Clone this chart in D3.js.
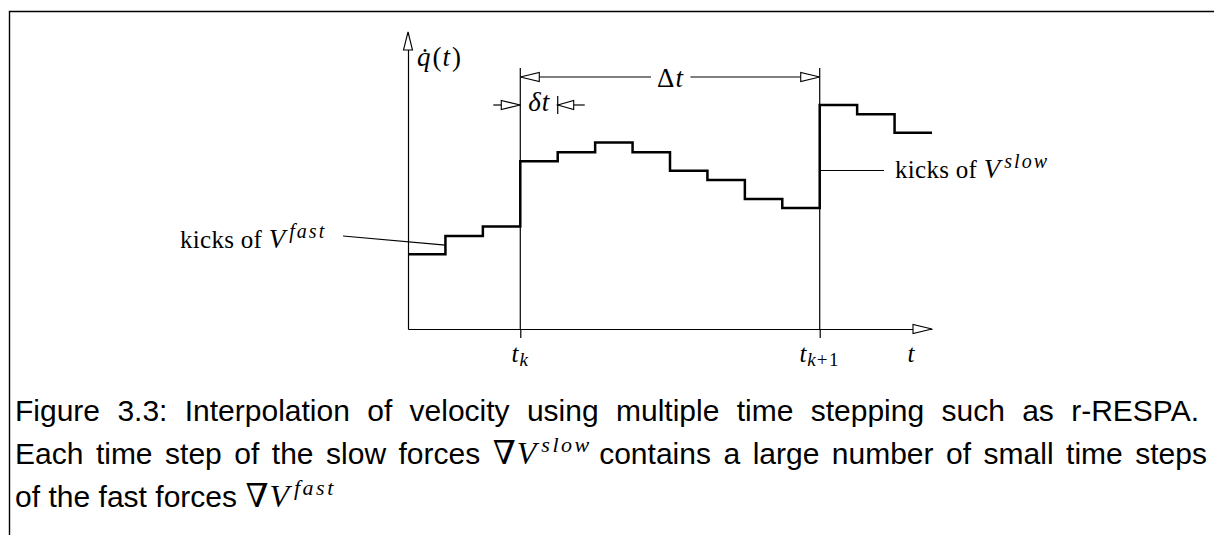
<!DOCTYPE html>
<html><head><meta charset="utf-8">
<script src="https://cdn.jsdelivr.net/npm/d3@7"></script>
<style>body{margin:0;background:#fff}svg{display:block}</style>
</head><body>
<script>
// ---------- data ----------
const stepIndex = [0,1,2,3,4,5,6,7,8,9,10,11,12,13];
const velocity  = [2.52,3.13,3.45,5.65,5.95,6.28,5.95,5.33,5.02,4.38,4.07,7.54,7.23,6.61];
const slowSteps = [3, 11];
const slowTickLabels = [["t","k",""],["t","k","+1"]];
const fastMarkStep = 4;
const xDomain = [0, 14];
const yDomain = [0, 10];
const captionLines = [
  "Figure 3.3:  Interpolation of velocity using multiple time stepping such as r-RESPA.",
  "Each time step of the slow forces $slow contains a large number of small time steps",
  "of the fast forces $fast"
];

const W = 1214, H = 535;
const SERIF = "'Liberation Serif', 'DejaVu Serif', serif";
const SANS = "'Liberation Sans', Arial, sans-serif";

const svg = d3.select("body").append("svg").attr("width", W).attr("height", H);

const x = d3.scaleLinear().domain(xDomain).range([408, 932]);
const y = d3.scaleLinear().domain(yDomain).range([329, 32]);

// frame
svg.append("path").attr("d", "M9.5,535V11.5H1214").attr("fill","none").attr("stroke","#000").attr("stroke-width",1.4);

// axes
const gx = svg.append("g").attr("transform", `translate(0,${y(0)})`)
  .call(d3.axisBottom(x).tickValues(slowSteps).tickSize(9).tickSizeOuter(0).tickFormat(""));
const gy = svg.append("g").attr("transform", `translate(${x(0)},0)`)
  .call(d3.axisLeft(y).tickValues([]).tickSizeOuter(0));
[gx, gy].forEach(g => g.selectAll("path,line").attr("stroke","#000").attr("stroke-width",1.2));

// vertical lines at slow steps
svg.selectAll("line.slow").data(slowSteps).join("line").attr("class","slow")
  .attr("x1", d => x(d)).attr("x2", d => x(d))
  .attr("y1", 68).attr("y2", y(0))
  .attr("stroke","#000").attr("stroke-width",1.2);

function arrow(tx, ty, dir, len = 19, hw = 4.5) {
  let pts;
  if (dir === "right") pts = [[tx,ty],[tx-len,ty-hw],[tx-len,ty+hw]];
  else if (dir === "left") pts = [[tx,ty],[tx+len,ty-hw],[tx+len,ty+hw]];
  else pts = [[tx,ty],[tx-hw,ty+len],[tx+hw,ty+len]];
  svg.append("polygon").attr("points", pts.map(p => p.join(",")).join(" "))
    .attr("fill","#fff").attr("stroke","#000").attr("stroke-width",1.1);
}
function hline(x1, x2, yy) {
  svg.append("line").attr("x1",x1).attr("x2",x2).attr("y1",yy).attr("y2",yy)
    .attr("stroke","#000").attr("stroke-width",1.2);
}

// step curve
const pts = stepIndex.map(i => ({i, v: velocity[i]}));
pts.push({i: stepIndex.length, v: velocity[velocity.length-1]});
svg.append("path").datum(pts)
  .attr("d", d3.line().x(d => x(d.i)).y(d => y(d.v)).curve(d3.curveStepAfter))
  .attr("fill","none").attr("stroke","#000").attr("stroke-width",2.5).attr("stroke-linejoin","miter");

// axis arrows
arrow(x(xDomain[1]), y(0), "right");
arrow(x(0), y(yDomain[1]), "up", 18, 4.5);

// axis labels
const ql = svg.append("text").attr("x", 417).attr("y", 66).attr("font-family", SERIF).attr("font-size", 27);
ql.append("tspan").attr("font-style","italic").attr("letter-spacing", 2).text("q\u0307");
ql.append("tspan").attr("letter-spacing", 1).text("(");
ql.append("tspan").attr("font-style","italic").attr("letter-spacing", 2).text("t");
ql.append("tspan").text(")");

slowSteps.forEach((s, k) => {
  const t = svg.append("text").attr("x", x(s)).attr("y", 362).attr("text-anchor","middle")
    .attr("font-family", SERIF).attr("font-size", 25);
  t.append("tspan").attr("font-style","italic").text(slowTickLabels[k][0]);
  t.append("tspan").attr("font-style","italic").attr("font-size", 19).attr("dx", 1).attr("dy", 4).attr("letter-spacing", 1).text(slowTickLabels[k][1]);
  if (slowTickLabels[k][2]) t.append("tspan").attr("font-size", 19).attr("letter-spacing", 1.5).text(slowTickLabels[k][2]);
});
svg.append("text").attr("x", 911).attr("y", 362).attr("text-anchor","middle")
  .attr("font-family", SERIF).attr("font-size", 25).attr("font-style","italic").text("t");

// Δt dimension
const dtY = 77;
const dT = svg.append("text").attr("x", x((slowSteps[0]+slowSteps[1])/2)).attr("y", 87)
  .attr("text-anchor","middle").attr("font-family", SERIF).attr("font-size", 27);
dT.append("tspan").attr("letter-spacing", 1).text("\u0394");
dT.append("tspan").attr("font-style","italic").text("t");
const dtb = dT.node().getBBox();
hline(x(slowSteps[0]), dtb.x - 6, dtY);
hline(dtb.x + dtb.width + 6, x(slowSteps[1]), dtY);
arrow(x(slowSteps[0]), dtY, "left");
arrow(x(slowSteps[1]), dtY, "right");

// δt dimension
const ddY = 105;
hline(x(slowSteps[0]) - 27, x(slowSteps[0]), ddY);
arrow(x(slowSteps[0]), ddY, "right", 19, 4.5);
svg.append("text").attr("x", x(slowSteps[0]) + 8).attr("y", 111)
  .attr("font-family", SERIF).attr("font-size", 27).attr("font-style","italic").attr("letter-spacing", 1).text("\u03B4t");
svg.append("line").attr("x1", x(fastMarkStep)).attr("x2", x(fastMarkStep)).attr("y1", 96).attr("y2", 114)
  .attr("stroke","#000").attr("stroke-width",1.2);
hline(x(fastMarkStep), x(fastMarkStep) + 27, ddY);
arrow(x(fastMarkStep), ddY, "left", 16, 4.5);

// kicks labels
function kicks(xx, yy, sup) {
  const t = svg.append("text").attr("x", xx).attr("y", yy).attr("font-family", SERIF).attr("font-size", 25);
  t.append("tspan").attr("letter-spacing", 0.3).text("kicks of ");
  t.append("tspan").attr("font-style","italic").attr("font-size", 27).text("V");
  t.append("tspan").attr("font-style","italic").attr("font-size", 20).attr("letter-spacing", 2)
    .attr("dx", 4).attr("dy", -10).text(sup);
}
kicks(180, 248, "fast");
svg.append("line").attr("x1", 343).attr("y1", 236).attr("x2", x(1)).attr("y2", y((velocity[0]+velocity[1])/2))
  .attr("stroke","#000").attr("stroke-width",1.1);
kicks(895, 178, "slow");
hline(x(slowSteps[1]), 884, 170.5);

// caption (justified)
const capX0 = 15, capRight = [1199, 1207, null], capBase = [421, 464, 507];
captionLines.forEach((line, li) => {
  const words = line.split(/\s+/);
  const nodes = words.map(w => {
    const t = svg.append("text").attr("y", capBase[li]).attr("font-family", SANS).attr("font-size", 30).attr("fill","#000");
    if (w.startsWith("$")) {
      t.append("tspan").attr("font-family", SERIF).attr("font-size", 33).attr("letter-spacing", 1).text("\u2207");
      t.append("tspan").attr("font-family", SERIF).attr("font-style","italic").attr("font-size", 32).text("V");
      t.append("tspan").attr("font-family", SERIF).attr("font-style","italic").attr("font-size", 22)
        .attr("letter-spacing", 2.5).attr("dx", 5).attr("dy", -12).text(w.slice(1));
    } else t.text(w);
    return t;
  });
  const widths = nodes.map(n => n.node().getComputedTextLength());
  const total = d3.sum(widths);
  const gap = capRight[li] ? Math.max(5, (capRight[li] - capX0 - total) / (words.length - 1)) : 8.4;
  let cx = capX0;
  nodes.forEach((n, i) => { n.attr("x", cx); cx += widths[i] + gap; });
});
</script>
</body></html>
